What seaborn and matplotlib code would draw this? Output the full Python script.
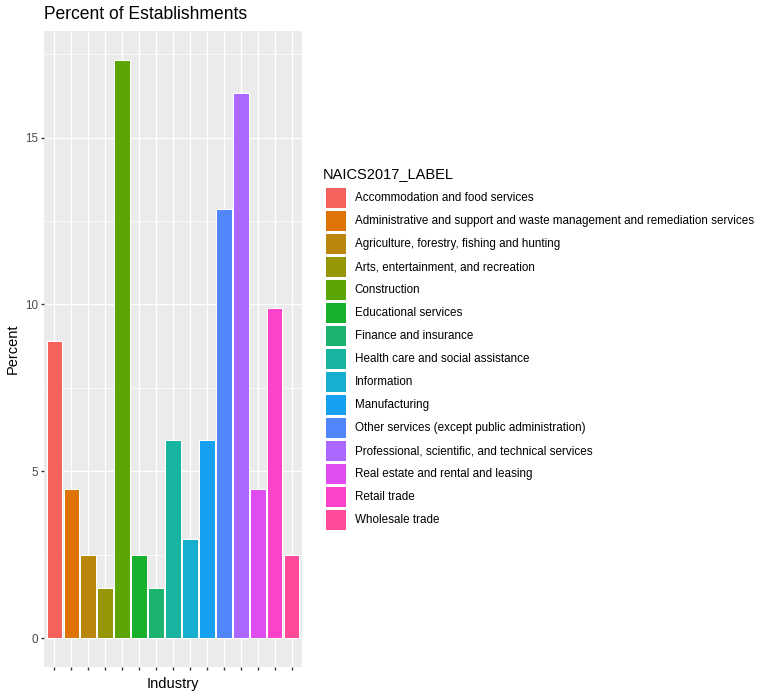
import matplotlib
matplotlib.use("Agg")
import matplotlib.pyplot as plt
from matplotlib.patches import Patch
from matplotlib.ticker import MultipleLocator
import seaborn as sns

industries = [
    "Accommodation and food services",
    "Administrative and support and waste management and remediation services",
    "Agriculture, forestry, fishing and hunting",
    "Arts, entertainment, and recreation",
    "Construction",
    "Educational services",
    "Finance and insurance",
    "Health care and social assistance",
    "Information",
    "Manufacturing",
    "Other services (except public administration)",
    "Professional, scientific, and technical services",
    "Real estate and rental and leasing",
    "Retail trade",
    "Wholesale trade",
]
percent = [8.91, 4.46, 2.48, 1.49, 17.33, 2.48, 1.49, 5.94,
           2.97, 5.94, 12.87, 16.34, 4.46, 9.90, 2.48]
colors = ["#F5625D", "#DE7306", "#BA860A", "#969706", "#5BA505",
          "#17B12D", "#1BB46E", "#17B4A2", "#17AED0", "#16A0F0",
          "#5087FF", "#AB67FF", "#DF4CF0", "#FA42CA", "#FF4A9A"]

plt.rcParams["font.family"] = ["Liberation Sans", "DejaVu Sans"]

fig = plt.figure(figsize=(770 / 90, 697 / 90), dpi=90)
ax = fig.add_axes([44 / 770, 30 / 697, 258 / 770, 636 / 697])
ax.set_facecolor("#EBEBEB")

sns.barplot(x=industries, y=percent, hue=industries, palette=colors,
            saturation=1, width=0.9, edgecolor="white", linewidth=0.8,
            legend=False, ax=ax, zorder=3)

ymax = max(percent)
ax.set_ylim(-0.05 * ymax, 1.05 * ymax)
ax.set_xlim(-0.6, len(industries) - 0.4)

ax.yaxis.set_major_locator(MultipleLocator(5))
ax.yaxis.set_minor_locator(MultipleLocator(2.5))
ax.grid(which="major", color="white", linewidth=1.07, zorder=1)
ax.grid(which="minor", axis="y", color="white", linewidth=0.53, zorder=1)
ax.set_axisbelow(True)
for s in ax.spines.values():
    s.set_visible(False)

ax.set_xticks(range(len(industries)))
ax.set_xticklabels([""] * len(industries))
ax.tick_params(axis="both", which="major", length=2.75, width=1.07,
               color="#333333", labelcolor="#4D4D4D", labelsize=9.3, pad=2.2)
ax.tick_params(axis="y", which="minor", length=0)

ax.set_xlabel("Industry", fontsize=11.7, color="black", labelpad=3)
ax.set_ylabel("Percent", fontsize=11.7, color="black", labelpad=4)

fig.text(44 / 770, 1 - 6 / 697, "Percent of Establishments",
         fontsize=14, ha="left", va="top")

# legend title drawn separately so the gap to the keys matches ggplot
fig.text(323 / 770, 1 - 174 / 697, "NAICS2017_LABEL",
         fontsize=11.7, ha="left", va="center")

handles = [Patch(facecolor=c, edgecolor="white", linewidth=0.8) for c in colors]
leg = fig.legend(handles, industries, loc="upper left",
                 bbox_to_anchor=(325 / 770, 1 - 187 / 697),
                 frameon=False, fontsize=9.35,
                 handlelength=1.8, handleheight=2.39,
                 labelspacing=0.17, handletextpad=0.75, borderpad=0,
                 borderaxespad=0)

fig.savefig("out.png", dpi=90)
